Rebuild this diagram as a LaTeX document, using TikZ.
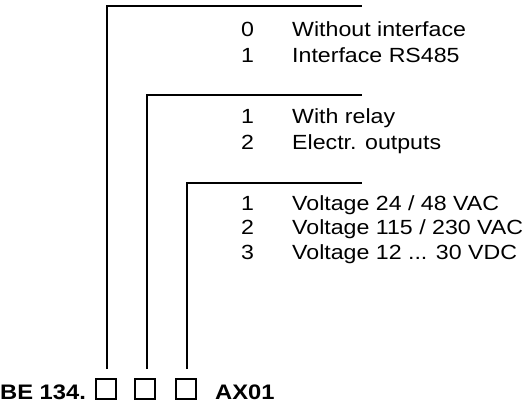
\documentclass[tikz,border=0pt]{standalone}
\usepackage{fontspec}
\setmainfont{Liberation Sans}[FakeStretch=1.13]
\usetikzlibrary{positioning}

\begin{document}
\begin{tikzpicture}[x=1pt,y=-1pt,
		lead/.style={line width=1.4pt},
		codebox/.style={draw,line width=1.2pt,minimum size=20pt,inner sep=0pt},
		code/.style={anchor=base west,inner sep=0pt,font=\bfseries\fontsize{21}{24}\selectfont},
		digit/.style={anchor=base west,inner sep=0pt,font=\fontsize{20.5}{24}\selectfont},
		option/.style={anchor=base west,inner sep=0pt,font=\fontsize{20.5}{24}\selectfont}]
	\useasboundingbox (0,0) rectangle (530,414);
	% x position of digits and texts
	\pgfmathsetmacro{\digitX}{241}
	\pgfmathsetmacro{\textX}{292}
	
	% type code with the three open places
	\node[code] (type) at (0,399) {BE 134.};
	\node[codebox] (boxA) at (106,389) {};
	\node[codebox] (boxB) at (145,389) {};
	\node[codebox] (boxC) at (186,389) {};
	\node[code] (suffix) at (215,399) {AX01};
	
	% leads from the boxes up to the groups
	\coordinate (footA) at (107,369);
	\coordinate (footB) at (147,369);
	\coordinate (footC) at (187,369);
	\coordinate (tipA) at (362,6);
	\coordinate (tipB) at (362,95);
	\coordinate (tipC) at (362,183);
	\draw[lead] (footA) |- (tipA);
	\draw[lead] (footB) |- (tipB);
	\draw[lead] (footC) |- (tipC);
	
	% first place: interface
	\node[digit] (numA0) at (\digitX,37) {0};
	\node[option] (optA0) at (\textX,37) {Without interface};
	\node[digit] (numA1) at (\digitX,63) {1};
	\node[option] (optA1) at (\textX,63) {Interface RS485};
	
	% second place: outputs
	\node[digit] (numB1) at (\digitX,124) {1};
	\node[option] (optB1) at (\textX,124) {With relay};
	\node[digit] (numB2) at (\digitX,150) {2};
	\node[option] (optB2) at (\textX,150) {Electr. outputs};
	
	% third place: supply voltage
	\node[digit] (numC1) at (\digitX,211) {1};
	\node[option] (optC1) at (\textX,211) {Voltage 24 / 48 VAC};
	\node[digit] (numC2) at (\digitX,235) {2};
	\node[option] (optC2) at (\textX,235) {Voltage 115 / 230 VAC};
	\node[digit] (numC3) at (\digitX,259) {3};
	\node[option] (optC3) at (\textX,259) {Voltage 12 ... 30 VDC};
\end{tikzpicture}
\end{document}
